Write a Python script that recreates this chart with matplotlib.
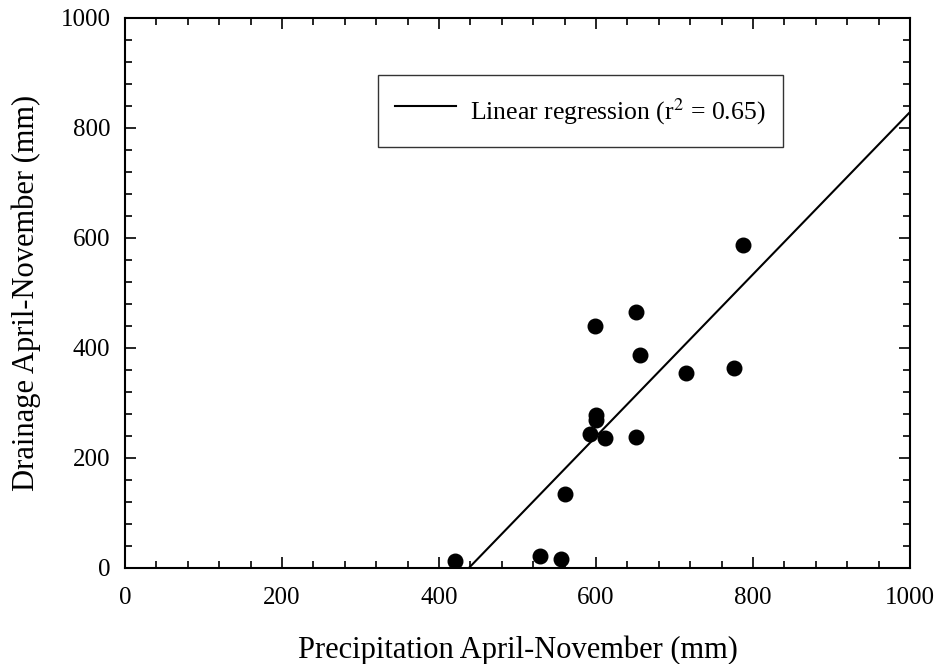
import numpy as np
import matplotlib.pyplot as plt
from matplotlib.ticker import MultipleLocator

plt.rcParams['font.family'] = ['Liberation Serif', 'DejaVu Serif']
plt.rcParams['mathtext.fontset'] = 'stix'

# precipitation vs drainage, April-November (mm)
precip = [421, 529, 555, 560, 592, 611, 600, 600, 599, 651, 656, 651, 715, 776, 787]
drainage = [13, 22, 16, 134, 243, 236, 270, 279, 440, 465, 387, 238, 354, 364, 587]

# regression line end points
fit_x = [438, 1000]
fit_y = [0, 829]

fig = plt.figure(figsize=(9.4, 6.64), dpi=100)
ax = fig.add_axes([125 / 940, 1 - 568 / 664, 785 / 940, 550 / 664])

ax.plot(fit_x, fit_y, color='black', lw=1.5, label='Linear regression (r$^2$ = 0.65)')
ax.scatter(precip, drainage, s=110, color='black', zorder=3)

ax.set_xlim(0, 1000)
ax.set_ylim(0, 1000)
ax.xaxis.set_major_locator(MultipleLocator(200))
ax.xaxis.set_minor_locator(MultipleLocator(40))
ax.yaxis.set_major_locator(MultipleLocator(200))
ax.yaxis.set_minor_locator(MultipleLocator(40))
ax.tick_params(which='both', direction='in', top=True, right=True, labelsize=18, width=1.2)
ax.tick_params(which='major', length=8)
ax.tick_params(which='minor', length=5)
ax.tick_params(axis='x', which='major', pad=14)
ax.tick_params(axis='y', which='major', pad=10.5)
for s in ax.spines.values():
    s.set_linewidth(1.5)

ax.set_xlabel('Precipitation April-November (mm)', fontsize=22, labelpad=19)
ax.set_ylabel('Drainage April-November (mm)', fontsize=22, labelpad=14)

leg = ax.legend(loc='upper left', bbox_to_anchor=((378 - 125) / 785, (568 - 75) / 550),
                borderaxespad=0, fontsize=18.5, frameon=True, fancybox=False,
                edgecolor='black', handlelength=2.4, handleheight=1.95,
                handletextpad=0.55, borderpad=0.65)
leg.get_frame().set_linewidth(1.0)

fig.savefig('out.png', dpi=100)
